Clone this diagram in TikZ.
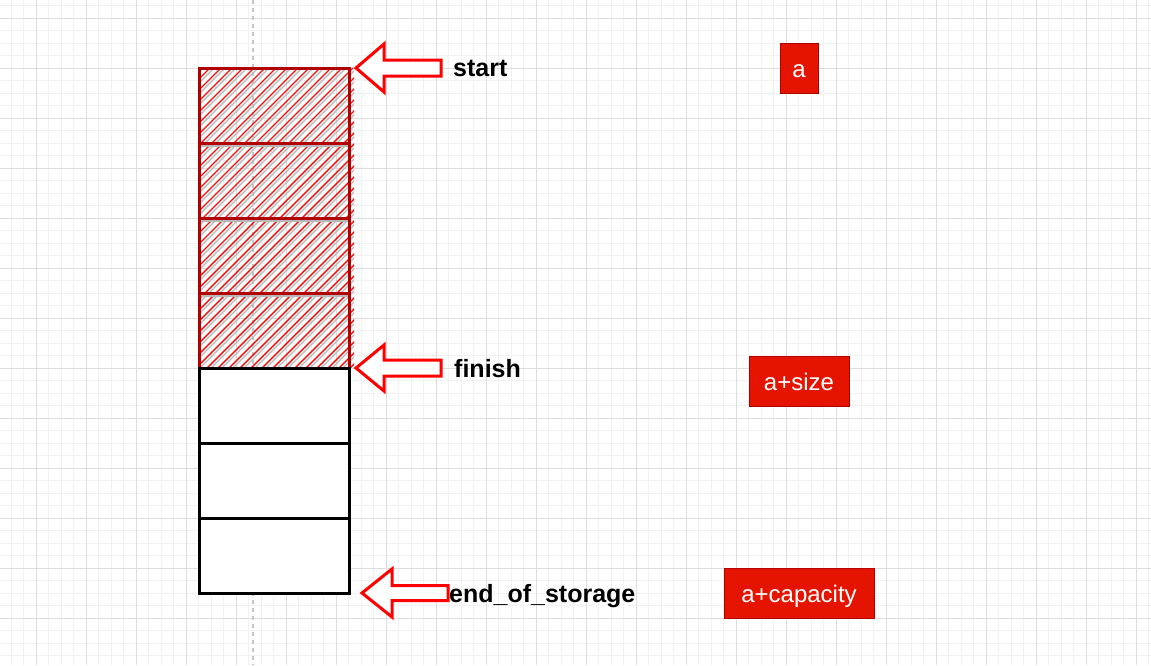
\documentclass[tikz,border=0pt]{standalone}
\usepackage{fontspec}
\setmainfont{Liberation Sans}
\definecolor{gridminor}{HTML}{F2F2F2}
\definecolor{gridmajor}{HTML}{DDDDDD}
\definecolor{guidegray}{HTML}{C4C4C4}
\definecolor{usedborder}{HTML}{B20000}
\definecolor{hatchred}{HTML}{F01010}
\definecolor{hatchgray}{HTML}{B8B8B8}
\definecolor{tagfill}{HTML}{E51400}
\definecolor{ptrred}{HTML}{FF0000}
\begin{document}
\begin{tikzpicture}[x=1pt,y=-1pt,
  minorline/.style={draw=gridminor,line width=1pt},
  majorline/.style={draw=gridmajor,line width=1pt},
  cellbox/.style={minimum width=150pt,minimum height=75pt,inner sep=0pt,outer sep=0pt},
  usedcell/.style={cellbox,draw=usedborder,line width=3pt},
  freecell/.style={cellbox,draw=black,fill=white,line width=3pt},
  ptrshape/.style={draw=ptrred,fill=white,line width=3pt,line join=miter},
  ptrlabel/.style={anchor=base west,inner sep=0pt,font=\fontsize{25}{29}\selectfont\bfseries},
  tagbox/.style={fill=tagfill,draw=usedborder,line width=0.8pt,text=white,
    minimum height=50pt,inner sep=0pt,text height=21pt,text depth=2pt,
    font=\fontsize{24}{28}\selectfont}]

% page and background grid
\useasboundingbox (0,0) rectangle (1151,665);
\fill[white] (0,0) rectangle (1151,665);
\foreach \k in {0,...,92} {\draw[minorline] ({11+12.5*\k},0) -- ++(0,665);}
\foreach \k in {0,...,53} {\draw[minorline] (0,{5.5+12.5*\k}) -- ++(1151,0);}
\foreach \k in {0,...,23} {\draw[majorline] ({36+50*\k},0) -- ++(0,665);}
\foreach \k in {0,...,13} {\draw[majorline] (0,{18+50*\k}) -- ++(1151,0);}

% dashed guide line
\draw[guidegray,line width=1.3pt,dash pattern=on 4pt off 4pt] (253,0) -- (253,665);

% hatching of the occupied cells
\begin{scope}
  \clip (198,67) rectangle (354,369);
  \foreach \k in {0,...,43} {
    \draw[hatchgray,line width=1.2pt] ({-97+11*\k},368) -- ++(300,-300);
    \draw[hatchred,line width=1.4pt] ({-101+11*\k},368) -- ++(300,-300);
  }
\end{scope}

% memory cells
\foreach \i in {1,...,4} {
  \node[usedcell] (c\i) at (274,{30.5+75*\i}) {};
  \draw[hatchgray,line width=1.4pt] ([yshift=-2.8pt]c\i.south west) -- ([yshift=-2.8pt]c\i.south east);
}
\foreach \i in {5,...,7} {\node[freecell] (c\i) at (274,{30.5+75*\i}) {};}

% pointer arrows
\coordinate (pstart) at (356,68);
\draw[ptrshape] (pstart) -- ++(28,-24) -- ++(0,16) -- ++(57,0) -- ++(0,16) -- ++(-57,0) -- ++(0,16) -- cycle;
\coordinate (pfinish) at (356,368);
\draw[ptrshape] (pfinish) -- ++(28,-23) -- ++(0,15) -- ++(57,0) -- ++(0,16) -- ++(-57,0) -- ++(0,15) -- cycle;
\coordinate (pend) at (362,593);
\draw[ptrshape] (pend) -- ++(30,-24) -- ++(0,16.5) -- ++(56,0) -- ++(0,15) -- ++(-56,0) -- ++(0,16.5) -- cycle;

% pointer names
\node[ptrlabel] (lstart) at (453,76) {start};
\node[ptrlabel] (lfinish) at (454,377) {finish};
\node[ptrlabel] (lend) at (449,602) {end\_of\_storage};

% address tags
\node[tagbox,minimum width=38pt] (ta) at (799,68) {a};
\node[tagbox,minimum width=100pt] (tsize) at (799,381) {a+size};
\node[tagbox,minimum width=150pt] (tcap) at (799,593) {a+capacity};
\end{tikzpicture}
\end{document}
